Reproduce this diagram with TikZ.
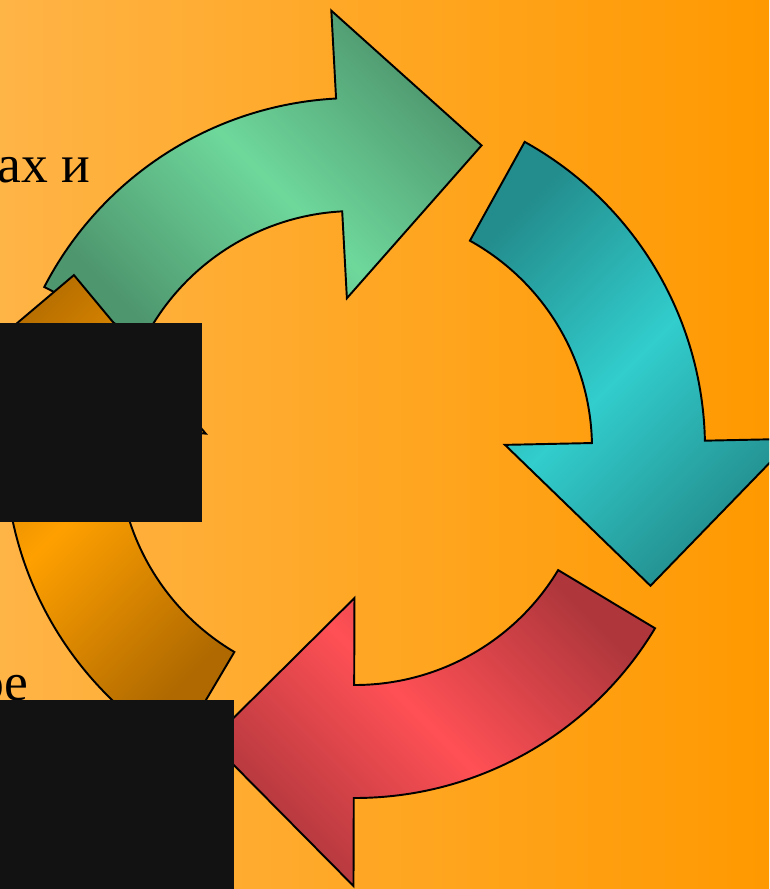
\documentclass[tikz,border=0pt]{standalone}
\usepackage{fontspec}
\setmainfont{Liberation Serif}
\usepackage{tikz}
\usetikzlibrary{calc}
\definecolor{bgleft}{RGB}{255,180,70}
\definecolor{bgright}{RGB}{255,153,0}
\definecolor{greendark}{RGB}{78,150,110}
\definecolor{greenlight}{RGB}{110,216,155}
\definecolor{tealdark}{RGB}{35,140,140}
\definecolor{teallight}{RGB}{50,205,205}
\definecolor{reddark}{RGB}{175,55,60}
\definecolor{redlight}{RGB}{255,80,85}
\definecolor{orangedark}{RGB}{175,105,0}
\definecolor{orangelight}{RGB}{255,160,0}
\definecolor{maskblack}{RGB}{18,18,18}

\begin{document}
\begin{tikzpicture}[
    x=0.02cm, y=-0.02cm,
    bent/.style={draw=black, line width=1.1pt, line join=miter},
    greenarr/.style={bent, left color=greendark, right color=greendark, middle color=greenlight, shading angle=135},
    tealarr/.style={bent, left color=tealdark, right color=tealdark, middle color=teallight, shading angle=45},
    redarr/.style={bent, left color=reddark, right color=reddark, middle color=redlight, shading angle=135},
    orangearr/.style={bent, left color=orangedark, right color=orangedark, middle color=orangelight, shading angle=45},
    cover/.style={fill=maskblack, draw=none},
    slidetext/.style={font=\fontsize{30.5}{36}\selectfont, inner sep=0pt, text=black}
]
\useasboundingbox (0,0) rectangle (769,889);
\clip (0,0) rectangle (769,889);
\shade[left color=bgleft, right color=bgright] (0,0) rectangle (769,889);

\node[slidetext, anchor=base west] (topword) at (-3,182) {ах и};
\node[slidetext, anchor=base east] (lowword) at (29,700) {ое};

\coordinate (c) at (355,448);
% top arrow
\draw[greenarr] ($(c)+(-152.6:350)$) arc[start angle=-152.6, end angle=-93.1, radius=350]
    -- ($(c)+(-93.1:438)$) -- ($(c)+(-67.3:328)$) -- ($(c)+(-93.1:150)$) -- ($(c)+(-93.1:237)$)
    arc[start angle=-93.1, end angle=-152.6, radius=237] -- cycle;
% right arrow
\draw[tealarr] ($(c)+(-61:350)$) arc[start angle=-61, end angle=-1.2, radius=350]
    -- ($(c)+(-1.2:438)$) -- ($(c)+(25:326)$) -- ($(c)+(-1.2:150)$) -- ($(c)+(-1.2:237)$)
    arc[start angle=-1.2, end angle=-61, radius=237] -- cycle;
% bottom arrow
\draw[redarr] ($(c)+(31:350)$) arc[start angle=31, end angle=90.2, radius=350]
    -- ($(c)+(90.2:438)$) -- ($(c)+(116.3:327)$) -- ($(c)+(90.2:150)$) -- ($(c)+(90.2:237)$)
    arc[start angle=90.2, end angle=31, radius=237] -- cycle;
% left arrow
\draw[orangearr] ($(c)+(120.6:350)$) arc[start angle=120.6, end angle=185.5, radius=350]
    -- ($(c)+(185.5:438)$) -- ($(c)+(211.6:330)$) -- ($(c)+(185.5:150)$) -- ($(c)+(185.5:237)$)
    arc[start angle=185.5, end angle=120.6, radius=237] -- cycle;

\fill[cover] (0,323) rectangle (202,522);
\fill[cover] (0,700) rectangle (234,889);
\end{tikzpicture}
\end{document}
